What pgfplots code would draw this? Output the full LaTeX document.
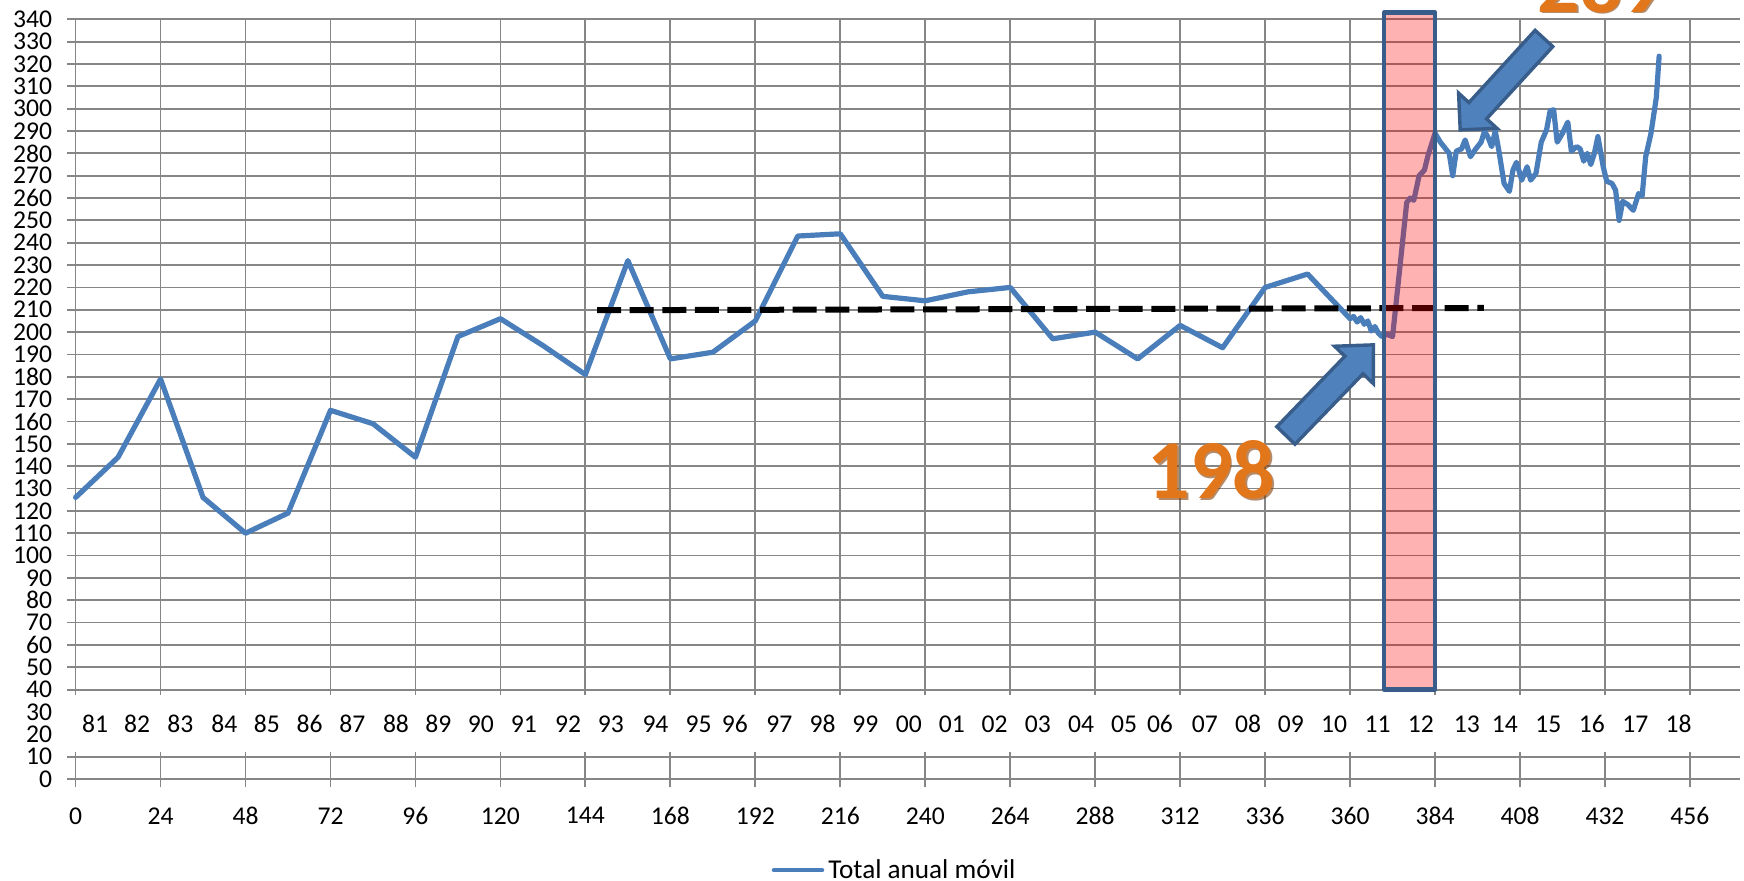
\documentclass[border=0pt]{standalone}
\usepackage{fontspec}
\setmainfont{Carlito}
\usepackage{pgfplots}
\pgfplotsset{compat=1.18}
\usepackage{pgfplotstable}

\definecolor{serie}{RGB}{74,126,187}
\definecolor{gridc}{RGB}{134,134,134}
\definecolor{arrowfill}{RGB}{79,129,189}
\definecolor{arrowdraw}{RGB}{56,93,138}
\definecolor{orangetxt}{RGB}{226,118,26}
\definecolor{orangesh}{RGB}{130,62,8}

\pgfplotstableread{
x y
0 126
12 144
24 179
36 126
48 110
60 119
72 165
84 159
96 144
108 198
120 206
132 194
144 181
156 232
168 188
180 191
192 205
204 243
216 244
228 216
240 214
252 218
264 220
276 197
288 200
300 188
312 203
324 193
336 220
348 226
360 206
361 207
362 204.5
363 206.5
364 203.5
365 205
366 200.5
367 202.5
368 199.5
369 198
370.5 199
372 198
376 258
377 260
378 259
379.5 270
381 272.5
382 279
384 289
385.5 285
387 282
388 280
389 270
390 281
391.5 282
392.5 286
394 278.5
395.5 282
397 285
398 290
399 287
400 283
401 290
402 281.5
403.5 266.5
405 263
406 272.5
407 276
408.5 268
410 274
411 268
412.5 271
414 285
415.5 290.5
416.5 299
417.5 299.5
418.5 285
420 289
421.5 294
422.5 281
424 283
425 282
426 276.5
427 280
428 275
429 280
430 287.5
431.5 274
432.5 267.5
434 266.5
435 263.5
436 250
437 258.5
438.5 257
440 254.5
441.5 262
442.5 261
443.5 278.5
445 289
446.5 305
447.3 323.5
}\datamain

\pgfplotstableread{
x y
147.3 209.8
397.8 210.8
}\datamean

\begin{document}
\begin{tikzpicture}
\begin{axis}[
  scale only axis, width=831.95pt, height=379.85pt,
  xmin=0, xmax=470, ymin=0, ymax=340,
  xtick={0,24,...,456}, ytick={0,10,...,340},
  grid=major, grid style={gridc, line width=0.9pt},
  axis line style={draw=none},
  tick style={gridc, line width=0.9pt},
  tick align=outside, major tick length=4.2pt,
  tick pos=left,
  clip=false,
  tick label style={font=\fontsize{12.8}{14}\selectfont, black},
  /pgf/number format/assume math mode=true,
  xticklabel style={yshift=-6.5pt},
  yticklabel style={xshift=-4pt, inner ysep=0pt},
  legend style={at={(0.4928,-0.1200)}, anchor=center, draw=none, fill=none,
    inner sep=0pt, font=\fontsize{13.6}{15}\selectfont},
  legend image code/.code={\draw[#1, line width=2.3pt, line cap=round] (0pt,0pt) -- (24pt,0pt);},
]
\coordinate (sw) at (rel axis cs:0,0);
\coordinate (ne) at (rel axis cs:1,1);
\fill[white] (axis cs:-3,12.2) rectangle (axis cs:473,37.6);
\addplot[serie, line width=2.6pt, line join=round, line cap=round] table {\datamain};
\addlegendentry{Total anual móvil}
\addplot[black, line width=3pt, dash pattern=on 12pt off 4.3pt, forget plot] table {\datamean};
\fill[red, fill opacity=0.3] (axis cs:369.6,40) rectangle (axis cs:384,343);
\draw[arrowdraw, line width=2.2pt, line join=round] (axis cs:369.6,40) rectangle (axis cs:384,343);
\coordinate (tipA) at (axis cs:366.6,194.3);
\coordinate (tipB) at (axis cs:391.1,290.5);
\coordinate (t198) at (axis cs:320.8,138.4);
\coordinate (t289) at (axis cs:431,342.7);
\foreach \p/\t in {5.5/81,17.4/82,29.6/83,42/84,54/85,66.1/86,78.2/87,90.5/88,102.5/89,114.5/90,126.6/91,139.1/92,151.2/93,163.8/94,176/95,186.2/96,198.8/97,211/98,223.1/99,235.4/00,247.5/01,259.6/02,271.8/03,284/04,296.2/05,306.3/06,319/07,331.2/08,343.3/09,355.5/10,367.8/11,380/12,393/13,403.7/14,416/15,428.3/16,440.6/17,452.8/18}{
  \edef\tmp{\noexpand\node[font=\noexpand\fontsize{12.8}{14}\noexpand\selectfont, inner sep=0pt, anchor=center] at (axis cs:\p,24.6) {\t};}\tmp
}
\end{axis}
\draw[arrowdraw, fill=arrowfill, line width=1.7pt, shift={(tipA)}, rotate=46]
  (0,0) -- (-14pt,13.5pt) -- (-14pt,6.3pt) -- (-63pt,6.3pt) -- (-63pt,-6.3pt) -- (-14pt,-6.3pt) -- (-14pt,-13.5pt) -- cycle;
\draw[arrowdraw, fill=arrowfill, line width=1.7pt, shift={(tipB)}, rotate=227.5]
  (0,0) -- (-13pt,13pt) -- (-13pt,6pt) -- (-62pt,6pt) -- (-62pt,-6pt) -- (-13pt,-6pt) -- (-13pt,-13pt) -- cycle;
\node[font=\fontsize{42}{44}\selectfont\bfseries, text=orangesh, opacity=0.6, inner sep=0pt, anchor=center] at ([shift={(0.8pt,-0.8pt)}]t198) {198};
\node[font=\fontsize{42}{44}\selectfont\bfseries, text=orangetxt, inner sep=0pt, anchor=center] at (t198) {198};
\node[font=\fontsize{42}{44}\selectfont\bfseries, text=orangesh, opacity=0.6, inner sep=0pt, anchor=south] at ([shift={(0.8pt,-0.8pt)}]t289) {289};
\node[font=\fontsize{42}{44}\selectfont\bfseries, text=orangetxt, inner sep=0pt, anchor=south] at (t289) {289};
\pgfresetboundingbox
\path[use as bounding box] ([shift={(-37.8pt,-51pt)}]sw) rectangle ([shift={(2.25pt,9.65pt)}]ne);
\end{tikzpicture}
\end{document}
